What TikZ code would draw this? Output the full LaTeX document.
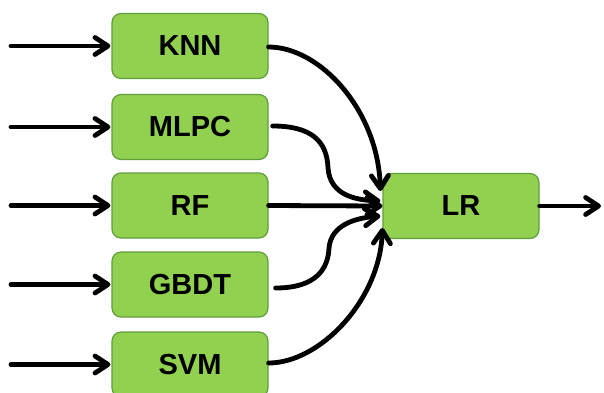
\documentclass[tikz,border=0pt]{standalone}
\usepackage{fontspec}
\setmainfont{Liberation Sans}
\usetikzlibrary{arrows.meta,calc}
\definecolor{boxfill}{HTML}{92D050}
\definecolor{boxline}{HTML}{5E9E3C}
\tikzset{
  model/.style={draw=boxline, line width=1.2pt, fill=boxfill, rounded corners=9pt,
    minimum width=156pt, minimum height=65pt, inner sep=0pt,
    font=\fontsize{29}{29}\selectfont\bfseries},
  flow/.style={line width=4.8pt, line cap=round,
    -{Straight Barb[length=13pt,width=17pt,line cap=round,line join=round]}}
}
\begin{document}
\begin{tikzpicture}[x=1pt,y=-1pt]
\useasboundingbox (0,0) rectangle (604,392);
% base learners
\node[model] (knn)  at (190,46)    {KNN};
\node[model] (mlpc) at (190,127)   {MLPC};
\node[model] (rf)   at (190,205.5) {RF};
\node[model] (gbdt) at (190,284.5) {GBDT};
\node[model] (svm)  at (190,364.5) {SVM};
% meta learner
\node[model] (lr) at (461,206) {LR};
% inputs
\coordinate (in1) at (11,46);
\coordinate (in2) at (11,127);
\coordinate (in3) at (11,205.5);
\coordinate (in4) at (11,284.5);
\coordinate (in5) at (11,364.5);
\coordinate (out) at (601,206);
\draw[flow] (in1) -- ($(knn.west)+(-1,0)$);
\draw[flow] (in2) -- ($(mlpc.west)+(-1,0)$);
\draw[flow] (in3) -- ($(rf.west)+(-1,0)$);
\draw[flow] (in4) -- ($(gbdt.west)+(-1,0)$);
\draw[flow] (in5) -- ($(svm.west)+(-1,0)$);
% stacking connectors into LR
\coordinate (t1) at ($(lr.west)+(-2,-15)$);
\coordinate (t2) at ($(lr.west)+(-2,-5)$);
\coordinate (t4) at ($(lr.west)+(-2,10)$);
\coordinate (t5) at ($(lr.west)+(0,22)$);
\draw[flow] ($(knn.east)+(0,1)$) .. controls (320,47) and (378,110) .. (t1);
\draw[flow] ($(mlpc.east)+(4,-1)$) .. controls (310,126) and (327,140) .. (328,168)
  .. controls (330,195) and (355,200) .. (t2);
\draw[flow] (rf.east) -- (lr.west);
\draw[flow] ($(gbdt.east)+(7,3.5)$) .. controls (315,288) and (328,270) .. (329,248)
  .. controls (331,225) and (355,218) .. (t4);
\draw[flow] ($(svm.east)+(0,-1.5)$) .. controls (320,363) and (380,300) .. (t5);
% output
\draw[flow] (lr.east) -- (out);
\end{tikzpicture}
\end{document}
